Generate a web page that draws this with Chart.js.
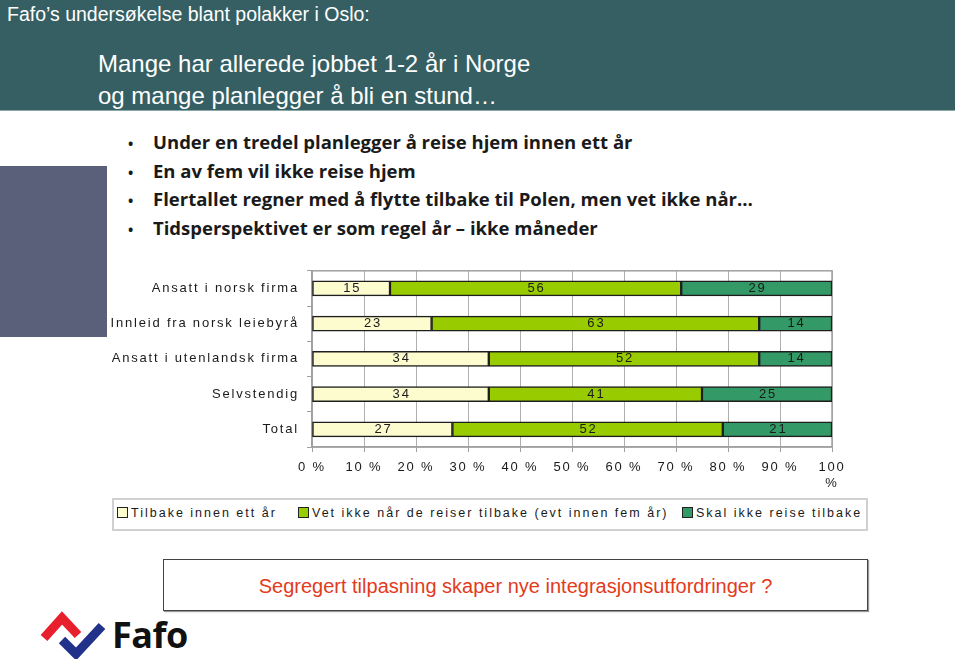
<!DOCTYPE html>
<html>
<head>
<meta charset="utf-8">
<script src="https://cdn.jsdelivr.net/npm/chart.js@4/dist/chart.umd.min.js"></script>
<style>
  body { margin: 0; width: 960px; height: 659px; position: relative; overflow: hidden; background: #fff; font-family: "Liberation Sans", Arial, sans-serif; }
  #header { position: absolute; left: 0; top: 0; width: 955px; height: 110px; background: #365f63; border-bottom: 1px solid #8aa7a9; }
  #kicker { position: absolute; left: 7px; top: 3px; color: #fff; font-size: 19.5px; }
  #title { position: absolute; left: 98px; top: 48px; color: #fff; font-size: 24px; line-height: 32px; }
  #sidebox { position: absolute; left: 0; top: 166px; width: 107px; height: 171px; background: #5a5f7a; }
  #bullets { position: absolute; left: 128px; top: 129px; margin: 0; padding: 0; list-style: none; font-family: "Open Sans", Lato, sans-serif; font-weight: bold; font-size: 18.5px; color: #1a1a1a; letter-spacing: 0px; }
  #bullets li { height: 28.5px; line-height: 26px; }
  #bullets li span.dot { display: inline-block; width: 25px; font-size: 14px; }
  #chartWrap { position: absolute; left: 0; top: 255px; width: 960px; height: 236px; }
  #legend { position: absolute; left: 112px; top: 498px; width: 752px; height: 29px; border: 2px solid #d0d0d0; font-size: 12.5px; letter-spacing: 2px; color: #1a1a1a; }
  #legend .item { position: absolute; top: 6px; white-space: nowrap; }
  #legend .sw { display: inline-block; width: 9px; height: 9px; border: 1.5px solid #222; margin-right: 3px; vertical-align: -1px; }
  #note { position: absolute; left: 163px; top: 559px; width: 703px; height: 50px; border: 1px solid #444; box-shadow: 1px 1px 1px #999; color: #e23b1c; font-size: 20px; text-align: center; line-height: 52px; }
  #logo { position: absolute; left: 38px; top: 610px; }
  #fafo { position: absolute; left: 112px; top: 610px; font-size: 36px; font-weight: bold; color: #111; font-family: "Open Sans", "Liberation Sans", sans-serif; letter-spacing: -0.5px; }
</style>
</head>
<body>
<div id="header">
  <div id="kicker">Fafo’s undersøkelse blant polakker i Oslo:</div>
  <div id="title">Mange har allerede jobbet 1-2 år i Norge<br>og mange planlegger å bli en stund…</div>
</div>
<div id="sidebox"></div>
<ul id="bullets">
  <li><span class="dot">•</span>Under en tredel planlegger å reise hjem innen ett år</li>
  <li><span class="dot">•</span>En av fem vil ikke reise hjem</li>
  <li><span class="dot">•</span>Flertallet regner med å flytte tilbake til Polen, men vet ikke når…</li>
  <li><span class="dot">•</span>Tidsperspektivet er som regel år – ikke måneder</li>
</ul>
<div id="chartWrap"><canvas id="chart"></canvas></div>
<div id="legend"></div>
<div id="note">Segregert tilpasning skaper nye integrasjonsutfordringer ?</div>
<svg id="logo" width="72" height="50" viewBox="0 0 72 50">
  <polyline points="6,28 24,8 40,25" fill="none" stroke="#e8202e" stroke-width="9" stroke-linejoin="miter"/>
  <polyline points="24,30 38,44 64,16" fill="none" stroke="#22318a" stroke-width="9" stroke-linejoin="miter"/>
  <line x1="32" y1="26" x2="36" y2="30" stroke="#fff" stroke-width="2"/>
</svg>
<div id="fafo">Fafo</div>
<script>
var categories = ["Ansatt i norsk firma", "Innleid fra norsk leiebyrå", "Ansatt i utenlandsk firma", "Selvstendig", "Total"];
var seriesNames = ["Tilbake innen ett år", "Vet ikke når de reiser tilbake (evt innen fem år)", "Skal ikke reise tilbake"];
var tilbake = [15, 23, 34, 34, 27];
var vetIkke = [56, 63, 52, 41, 52];
var skalIkke = [29, 14, 14, 25, 21];
var tickLabels = ["0 %", "10 %", "20 %", "30 %", "40 %", "50 %", "60 %", "70 %", "80 %", "90 %", ["100", "%"]];
var colors = ["#fdfcce", "#99cc00", "#339966"];
var legendLeft = [3, 184, 568];

// legend built from the series names
var legend = document.getElementById("legend");
for (var i = 0; i < seriesNames.length; i++) {
  var item = document.createElement("div");
  item.className = "item";
  item.style.left = legendLeft[i] + "px";
  item.innerHTML = '<span class="sw" style="background:' + colors[i] + '"></span>' + seriesNames[i];
  legend.appendChild(item);
}

var spacing = {
  id: "spacing",
  beforeDraw: function(chart) {
    chart.ctx.letterSpacing = "1.8px";
  }
};

var frame = {
  id: "frame",
  beforeDatasetsDraw: function(chart) {
    var a = chart.chartArea;
    var ctx = chart.ctx;
    ctx.save();
    ctx.strokeStyle = "#a0a0a0";
    ctx.lineWidth = 1.5;
    ctx.strokeRect(a.left, a.top, a.right - a.left, a.bottom - a.top);
    ctx.restore();
  }
};

var valueLabels = {
  id: "valueLabels",
  afterDatasetsDraw: function(chart) {
    var ctx = chart.ctx;
    ctx.save();
    ctx.font = "13px 'Liberation Sans', Arial, sans-serif";
    ctx.fillStyle = "#1a1a1a";
    ctx.textAlign = "center";
    ctx.textBaseline = "middle";
    chart.data.datasets.forEach(function(ds, d) {
      chart.getDatasetMeta(d).data.forEach(function(bar, j) {
        var cx = (bar.x + bar.base) / 2;
        ctx.fillText(String(ds.data[j]), cx + 1, bar.y);
      });
    });
    ctx.restore();
  }
};

new Chart(document.getElementById("chart"), {
  type: "bar",
  data: {
    labels: categories,
    datasets: [
      { label: seriesNames[0], data: tilbake, backgroundColor: colors[0] },
      { label: seriesNames[1], data: vetIkke, backgroundColor: colors[1] },
      { label: seriesNames[2], data: skalIkke, backgroundColor: colors[2] }
    ]
  },
  options: {
    indexAxis: "y",
    responsive: true,
    maintainAspectRatio: false,
    animation: false,
    layout: { padding: { top: 12, right: 128, bottom: 0, left: 0 } },
    datasets: {
      bar: { barThickness: 15, borderColor: "#1e1e1e", borderWidth: 1.5, borderSkipped: false }
    },
    plugins: {
      legend: { display: false },
      tooltip: { enabled: false }
    },
    scales: {
      x: {
        stacked: true,
        min: 0,
        max: 100,
        ticks: {
          stepSize: 10,
          color: "#1a1a1a",
          font: { family: "'Liberation Sans', Arial, sans-serif", size: 13 },
          padding: 8,
          maxRotation: 0,
          autoSkip: false,
          callback: function(v, i) { return tickLabels[i]; }
        },
        grid: {
          color: "#b0b0b0",
          borderDash: [3, 3],
          tickBorderDash: [],
          tickColor: "#a0a0a0",
          tickLength: 5
        },
        border: { color: "#a0a0a0", width: 1.5, dash: [] },
        afterFit: function(scale) { scale.height = 44; }
      },
      y: {
        stacked: true,
        ticks: {
          color: "#1a1a1a",
          font: { family: "'Liberation Sans', Arial, sans-serif", size: 13 },
          padding: 8
        },
        grid: {
          offset: true,
          drawOnChartArea: false,
          tickColor: "#a0a0a0",
          tickLength: 5
        },
        border: { color: "#a0a0a0", width: 1.5 },
        afterFit: function(scale) { scale.width = 312; }
      }
    }
  },
  plugins: [spacing, frame, valueLabels]
});
</script>
</body>
</html>
